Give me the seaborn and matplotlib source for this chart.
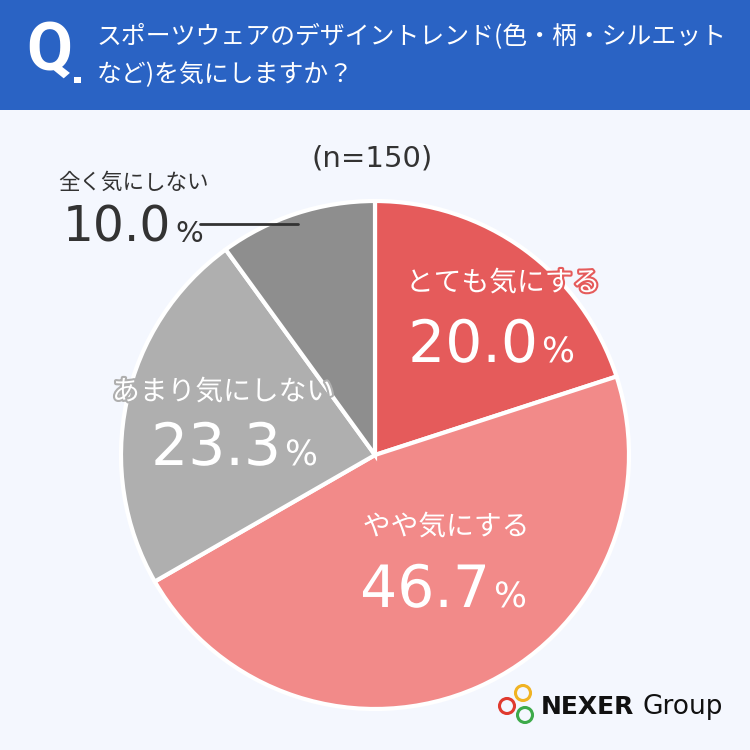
import matplotlib
matplotlib.use("Agg")
import matplotlib.pyplot as plt
import matplotlib.patheffects as pe
from matplotlib.patches import Rectangle, Circle
import seaborn as sns

# ---- data ----
categories = ["とても気にする", "やや気にする", "あまり気にしない", "全く気にしない"]
values = [20.0, 46.7, 23.3, 10.0]
value_labels = ["20.0", "46.7", "23.3", "10.0"]
colors = ["#e55b5b", "#f28a89", "#afafaf", "#8e8e8e"]
title_lines = ["スポーツウェアのデザイントレンド(色・柄・シルエット", "など)を気にしますか？"]
sample_label = "(n=150)"

sns.set_theme(style="white")
plt.rcParams['font.family'] = ['Noto Sans CJK JP', 'DejaVu Sans']

BG = "#f4f7fe"
W = H = 750
fig = plt.figure(figsize=(7.5, 7.5), dpi=100, facecolor=BG)

def px(x, y):
    return (x / W, 1 - y / H)

# header band
fig.patches.append(Rectangle((0, 1 - 110 / H), 1, 110 / H, transform=fig.transFigure,
                             facecolor="#2a63c4", edgecolor="none", zorder=0))
fig.text(*px(49, 52), "Q", color="white", fontsize=48, fontweight="bold",
         ha="center", va="center", family=["Roboto", "DejaVu Sans"])
fig.patches.append(Rectangle(px(74, 83), 7 / W, 6 / H, transform=fig.transFigure,
                             facecolor="white", edgecolor="none"))
fig.text(*px(97, 37), title_lines[0], color="white", fontsize=17.9, ha="left", va="center")
fig.text(*px(97, 75), title_lines[1], color="white", fontsize=17.9, ha="left", va="center")

# pie
cx, cy, r = 375, 455, 254
ax = fig.add_axes([(cx - r) / W, 1 - (cy + r) / H, 2 * r / W, 2 * r / H])
ax.pie(values, colors=colors, startangle=90, counterclock=False,
       wedgeprops=dict(edgecolor="white", linewidth=3))
ax.set_aspect("equal")
ax.set_xlim(-1, 1)
ax.set_ylim(-1, 1)
ax.axis("off")

NUMFONT = ["DejaVu Sans"]
fig.text(*px(372, 158), sample_label, color="#333333", fontsize=21, ha="center", va="center",
         family=NUMFONT)

# labels: (cat x, cat y, number baseline y, number right x, color, stroke)
specs = [
    (503, 283, 362, 538, "white", colors[0]),
    (446, 527, 607, 490, "white", colors[1]),
    (223, 392, 465, 281, "white", colors[2]),
    (133, 183, 242, 171, "#333333", None),
]
for (tx, ty, by, rx, col, stroke), cat, lab in zip(specs, categories, value_labels):
    small = stroke is None
    eff = [pe.withStroke(linewidth=3, foreground=stroke)] if stroke else None
    fig.text(*px(tx, ty), cat, color=col, fontsize=15.5 if small else 20,
             ha="center", va="center", path_effects=eff)
    fig.text(*px(rx, by), lab, color=col, fontsize=35 if small else 42,
             ha="right", va="baseline", family=NUMFONT, path_effects=eff)
    fig.text(*px(rx + 4, by), "%", color=col, fontsize=21 if small else 25,
             ha="left", va="baseline", family=NUMFONT, path_effects=eff)

# leader line for 全く気にしない
fig.add_artist(plt.Line2D([200 / W, 298 / W], [1 - 224 / H, 1 - 224 / H],
                          transform=fig.transFigure, color="#333333", lw=2))

# logo
for (x, y, c) in [(523, 693, "#f0b323"), (507, 706, "#e03a2f"), (525, 715, "#3daa4a")]:
    fig.patches.append(Circle(px(x, y), 7.5 / W, transform=fig.transFigure,
                              facecolor="none", edgecolor=c, lw=2.2))
fig.text(*px(541, 707), "NEXER", color="#111111", fontsize=18, fontweight="bold",
         ha="left", va="center", family=NUMFONT)
fig.text(*px(642, 707), "Group", color="#111111", fontsize=19, fontweight="normal",
         ha="left", va="center", family=NUMFONT)

fig.savefig("out.png", dpi=100, facecolor=BG)
